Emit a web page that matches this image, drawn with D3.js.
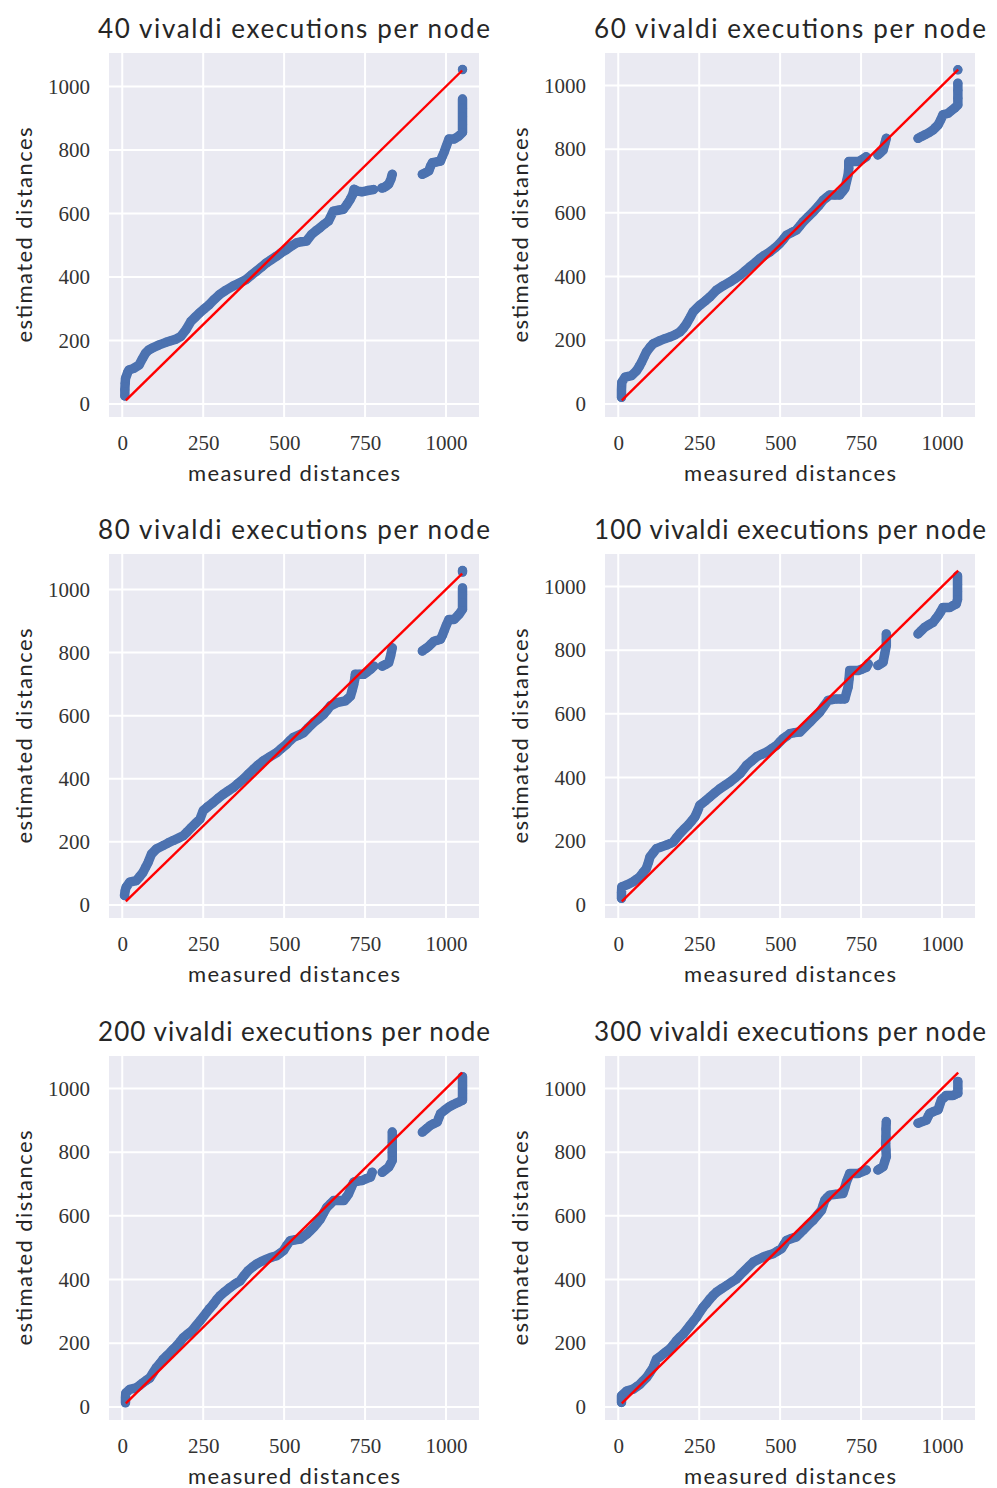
<!DOCTYPE html>
<html><head><meta charset="utf-8">
<script src="https://cdn.jsdelivr.net/npm/d3@7"></script>
<style>body{margin:0;background:#fff} .tick text{font-family:'Liberation Serif','DejaVu Serif',serif !important;}</style>
</head><body><svg id="c" width="997" height="1488"></svg>
<script>
// ---------- data ----------
const executions = [40, 60, 80, 100, 200, 300];
const xTicks = [0, 250, 500, 750, 1000];
const yTicks = [0, 200, 400, 600, 800, 1000];
const refLine = [11, 1050];   // y = x reference, over measured range
const xLabel = "measured distances";
const yLabel = "estimated distances";

// [measured, estimated]; null separates visible gaps in the point cloud
const exec40 = [[8,25],[8,45],[9,65],[10,80],[17,100],[21,107],[35,112],[52,123],[62,142],[72,160],[82,170],[93,176],[114,186],[135,194],[150,199],[166,204],[181,213],[197,234],[212,260],[225,273],[238,286],[253,299],[269,313],[285,330],[300,344],[320,358],[342,371],[362,381],[383,392],[398,405],[414,418],[430,431],[445,444],[460,454],[476,465],[491,476],[507,486],[522,497],[538,507],[554,511],[569,513],[585,534],[598,545],[611,555],[624,566],[637,576],[652,607],[667,610],[683,613],[694,628],[704,644],[712,660],[716,676],[728,670],[740,668],[758,672],[776,675],null,
[802,680],[807,681],[815,686],[823,692],[830,708],[834,723],null,
[927,723],[937,728],[947,734],[952,748],[958,760],[970,762],[983,765],[988,778],[994,792],[1001,812],[1009,834],[1025,834],[1040,844],[1051,855],[1051,880],[1051,905],[1051,930],[1051,960],null,[1051,1053]];

const exec60 = [[10,21],[10,45],[11,68],[21,84],[41,89],[57,105],[65,118],[72,131],[80,148],[87,163],[98,178],[108,189],[129,199],[144,205],[159,210],[175,217],[190,226],[201,238],[211,252],[221,270],[231,289],[252,310],[268,323],[283,336],[303,357],[324,371],[345,383],[360,393],[376,404],[391,417],[406,430],[422,443],[437,456],[452,467],[468,477],[484,490],[499,504],[510,517],[520,530],[535,538],[550,546],[561,559],[571,572],[587,588],[602,603],[618,621],[633,640],[643,648],[653,656],[669,656],[684,656],[692,666],[700,677],[705,698],[710,719],[712,740],[712,761],[726,761],[741,761],[754,768],[766,776],null,
[802,782],[810,789],[818,797],[823,815],[828,834],null,
[926,834],[937,840],[947,845],[960,852],[972,860],[980,868],[988,876],[996,892],[1003,908],[1019,913],[1029,921],[1039,929],[1049,939],[1049,960],[1049,985],[1049,1007],null,[1049,1049]];

const exec80 = [[7,30],[9,45],[12,56],[23,72],[43,77],[54,90],[64,103],[72,119],[80,135],[90,161],[105,177],[126,188],[141,196],[157,204],[172,211],[188,219],[201,232],[214,246],[227,259],[240,272],[250,299],[265,312],[281,325],[296,338],[312,351],[328,362],[343,372],[358,385],[374,399],[390,415],[405,430],[420,444],[436,457],[456,470],[477,483],[492,496],[508,510],[518,521],[529,531],[545,538],[560,546],[575,562],[591,578],[607,591],[622,604],[633,618],[643,631],[663,641],[689,647],[697,654],[705,662],[710,680],[715,699],[718,715],[720,731],[733,731],[746,731],[757,739],[767,747],[777,757],null,
[803,757],[813,762],[823,768],[829,790],[834,815],null,
[927,805],[938,813],[948,821],[956,829],[963,836],[973,839],[983,842],[989,855],[994,868],[1001,887],[1009,905],[1025,905],[1040,921],[1051,937],[1051,960],[1051,985],[1051,1005],null,[1051,1055],[1051,1060]];

const exec100 = [[10,21],[10,40],[11,57],[26,63],[46,73],[57,81],[67,89],[77,102],[87,115],[93,133],[98,151],[108,164],[118,177],[134,183],[149,188],[160,193],[170,198],[180,211],[190,224],[203,238],[216,251],[227,264],[237,277],[245,295],[252,313],[268,326],[283,339],[298,352],[314,365],[330,376],[345,386],[361,399],[376,412],[386,425],[396,438],[412,452],[427,465],[443,473],[458,480],[474,491],[489,501],[499,512],[509,522],[520,530],[530,538],[545,541],[561,543],[577,559],[592,574],[607,590],[622,605],[635,624],[648,642],[661,645],[674,647],[687,647],[700,647],[705,666],[710,684],[713,710],[715,736],[728,736],[741,736],[754,741],[766,746],[772,757],null,
[802,752],[810,757],[818,762],[823,788],[828,814],[828,833],[828,851],null,
[926,851],[937,862],[947,872],[960,880],[972,887],[980,898],[988,908],[996,921],[1003,934],[1014,934],[1024,934],[1034,940],[1044,945],[1048,960],[1048,985],[1048,1007],[1048,1020],[1048,1033]];

const exec200 = [[10,13],[10,30],[11,44],[23,55],[43,60],[54,68],[64,76],[75,84],[85,91],[95,107],[105,123],[116,136],[126,149],[137,160],[147,170],[157,181],[167,191],[178,204],[188,217],[201,228],[214,238],[227,254],[240,270],[250,283],[260,296],[270,309],[281,322],[291,336],[302,349],[317,362],[333,375],[348,386],[364,396],[376,412],[389,428],[402,439],[415,449],[430,457],[446,464],[461,470],[477,475],[488,483],[498,491],[508,507],[519,522],[535,525],[550,527],[560,535],[570,543],[581,554],[591,564],[602,577],[612,590],[622,609],[632,627],[643,638],[653,648],[669,648],[684,648],[692,659],[699,669],[707,688],[715,706],[728,709],[741,711],[754,717],[767,722],[772,737],null,
[803,737],[813,745],[823,753],[829,764],[834,774],[834,800],[834,830],[834,863],null,
[927,863],[940,874],[952,884],[963,890],[973,895],[978,908],[983,921],[996,932],[1009,942],[1020,948],[1030,953],[1041,958],[1051,963],[1051,985],[1051,1010],[1051,1037]];

const exec300 = [[10,14],[10,25],[10,35],[26,50],[46,56],[57,64],[67,71],[77,82],[87,92],[98,108],[108,124],[113,137],[118,150],[129,158],[139,166],[149,174],[159,182],[170,195],[180,208],[190,219],[201,229],[211,242],[221,255],[232,269],[242,282],[252,298],[262,313],[273,326],[283,339],[293,350],[303,360],[319,371],[334,381],[350,392],[365,402],[378,416],[391,429],[404,442],[417,455],[432,463],[448,471],[463,476],[478,481],[491,489],[504,497],[512,510],[520,523],[535,529],[550,534],[561,545],[571,555],[586,571],[602,586],[615,602],[628,618],[633,634],[638,649],[645,657],[653,665],[673,668],[694,670],[700,689],[705,707],[710,720],[715,733],[728,733],[741,733],[754,739],[766,744],null,
[802,744],[810,749],[818,754],[823,770],[828,786],[827,807],[826,828],[827,850],[827,873],[828,896],null,
[926,891],[939,896],[952,901],[957,912],[962,922],[975,928],[988,933],[993,949],[998,964],[1006,971],[1013,978],[1024,978],[1034,978],[1042,982],[1049,985],[1049,1000],[1049,1022]];

const seriesList = [exec40, exec60, exec80, exec100, exec200, exec300];

// ---------- layout / style ----------
const colX = [109, 605], rowY = [53, 554, 1056];
const plotW = 370, plotH = 364;
const BLUE = "#4C72B0", BG = "#EAEAF2", TXT = "#262626";
const svg = d3.select("#c");

const pad = (lo, hi) => { const r = hi - lo; return [lo - 0.05 * r, hi + 0.05 * r]; };

seriesList.forEach((data, i) => {
  const col = i % 2, row = Math.floor(i / 2);
  const left = colX[col], top = rowY[row];
  const pts = data.filter(d => d !== null);
  const ys = pts.map(d => d[1]).concat(refLine);

  const x = d3.scaleLinear().domain(pad(refLine[0], refLine[1])).range([left, left + plotW]);
  const y = d3.scaleLinear().domain(pad(d3.min(ys), d3.max(ys))).range([top + plotH, top]);

  const g = svg.append("g");
  g.append("rect").attr("x", left).attr("y", top).attr("width", plotW).attr("height", plotH).attr("fill", BG);

  // grid
  g.selectAll(".gx").data(xTicks).join("line")
    .attr("x1", d => x(d)).attr("x2", d => x(d)).attr("y1", top).attr("y2", top + plotH)
    .attr("stroke", "#fff").attr("stroke-width", 2);
  g.selectAll(".gy").data(yTicks).join("line")
    .attr("y1", d => y(d)).attr("y2", d => y(d)).attr("x1", left).attr("x2", left + plotW)
    .attr("stroke", "#fff").attr("stroke-width", 2);

  // axes
  const ax = g.append("g").attr("transform", `translate(0,${top + plotH})`)
    .call(d3.axisBottom(x).tickValues(xTicks).tickSize(0).tickPadding(18).tickFormat(d3.format("d")));
  const ay = g.append("g").attr("transform", `translate(${left},0)`)
    .call(d3.axisLeft(y).tickValues(yTicks).tickSize(0).tickPadding(19).tickFormat(d3.format("d")));
  [ax, ay].forEach(a => {
    a.select(".domain").remove();
    a.attr("font-family", "'Liberation Serif', serif").attr("font-size", 21);
    a.selectAll("text").style("font-family", "'Liberation Serif', serif").style("font-size", "21px").attr("fill", "#333");
  });

  // point cloud
  const line = d3.line().defined(d => d !== null).x(d => x(d[0])).y(d => y(d[1]));
  g.append("path").attr("d", line(data)).attr("fill", "none").attr("stroke", BLUE)
    .attr("stroke-width", 9.5).attr("stroke-linecap", "round").attr("stroke-linejoin", "round");
  g.selectAll(".pt").data(pts).join("circle")
    .attr("cx", d => x(d[0])).attr("cy", d => y(d[1])).attr("r", 4.5).attr("fill", BLUE);

  // reference line
  g.append("path").attr("d", d3.line().x(d => x(d)).y(d => y(d))(refLine))
    .attr("stroke", "#FF0000").attr("stroke-width", 2.4).attr("fill", "none");

  // texts
  const cx = left + plotW / 2, cy = top + plotH / 2;
  g.append("text").attr("x", cx).attr("y", top - 15).attr("text-anchor", "middle")
    .attr("font-family", "Lato, sans-serif").attr("font-size", 26).attr("fill", TXT)
    .attr("textLength", 392).attr("lengthAdjust", "spacing")
    .text(`${executions[i]} vivaldi executions per node`);
  g.append("text").attr("x", cx).attr("y", top + plotH + 64).attr("text-anchor", "middle")
    .attr("font-family", "Lato, sans-serif").attr("font-size", 22).attr("fill", TXT)
    .attr("textLength", 212).attr("lengthAdjust", "spacing")
    .text(xLabel);
  g.append("text").attr("transform", `translate(${left - 77},${cy}) rotate(-90)`).attr("text-anchor", "middle")
    .attr("font-family", "Lato, sans-serif").attr("font-size", 22).attr("fill", TXT)
    .attr("textLength", 215).attr("lengthAdjust", "spacing")
    .text(yLabel);
});
</script></body></html>
